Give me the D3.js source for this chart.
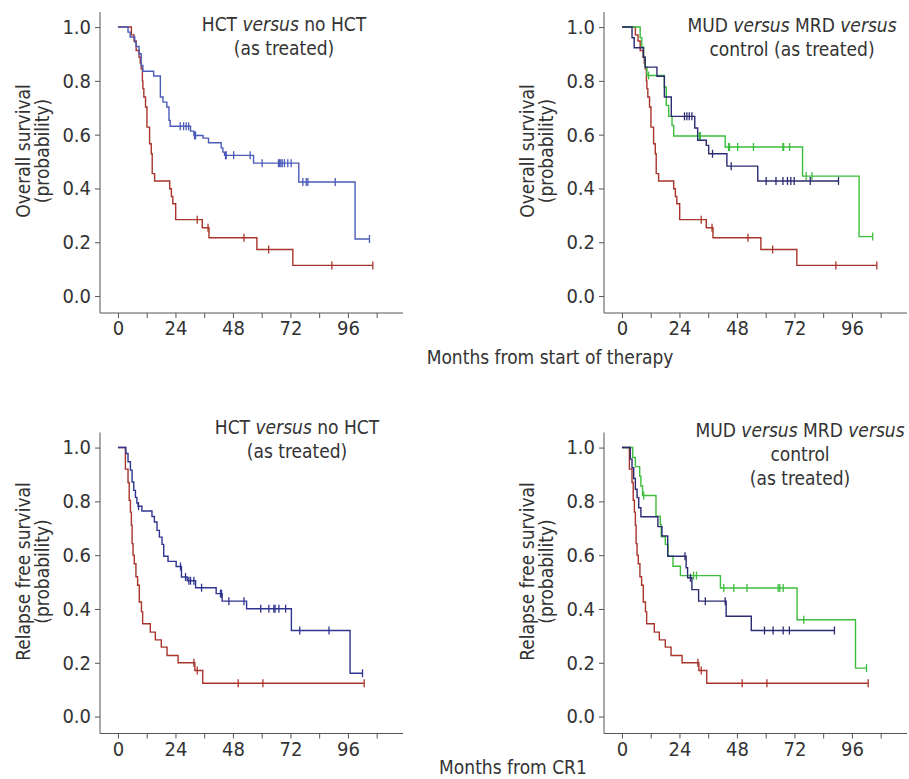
<!DOCTYPE html>
<html>
<head>
<meta charset="utf-8">
<script src="https://cdn.jsdelivr.net/npm/d3@7"></script>
<style>
  body { margin: 0; background: #fff; }
  text { font-family: "Liberation Sans Narrow", "DejaVu Sans Condensed", Roboto, sans-serif; fill: #333; }
</style>
</head>
<body>
<div id="km"></div>
<script>
// ---- data (months, survival probability, censor times) ----

// Overall survival, control (no HCT) - same curve in both top panels
var osMonths_noHCT = [0, 5.6, 6.7, 7.6, 8.8, 9.3, 9.7, 10.2, 10.4, 10.8, 11.5, 12.1, 13.2, 13.9, 14.3, 15.3, 21.6, 22.3, 22.9, 24.1, 35.2, 38.0, 58.0, 73.0];
var osSurv_noHCT   = [1, 0.971, 0.948, 0.913, 0.888, 0.866, 0.845, 0.80, 0.771, 0.74, 0.703, 0.628, 0.566, 0.529, 0.455, 0.428, 0.399, 0.37, 0.343, 0.284, 0.254, 0.217, 0.173, 0.114];
var osCens_noHCT   = [33.1, 37.6, 52.6, 62.9, 89.3, 106.4];

// Overall survival, HCT
var osMonths_HCT = [0, 4.2, 5.1, 7.0, 7.6, 8.8, 9.7, 10.4, 14.9, 17.7, 18.8, 20.4, 21.3, 21.8, 30.3, 31.7, 35.5, 37.8, 43.1, 43.8, 44.5, 56.6, 75.5, 99.0];
var osSurv_HCT   = [1, 0.981, 0.963, 0.944, 0.928, 0.901, 0.857, 0.836, 0.818, 0.74, 0.721, 0.703, 0.653, 0.631, 0.613, 0.597, 0.587, 0.57, 0.551, 0.535, 0.523, 0.494, 0.424, 0.212];
var osCens_HCT   = [26.0, 27.4, 28.5, 29.5, 32.0, 32.4, 44.9, 45.2, 48.3, 55.2, 60.2, 67.0, 67.5, 68.0, 68.6, 69.5, 70.9, 72.3, 77.2, 78.6, 79.3, 90.7, 105.0];

// Overall survival, MUD (navy) and MRD (green)
var osMonths_MUD = [0, 4.2, 5.1, 9.0, 9.7, 14.6, 17.7, 20.6, 30.4, 31.6, 35.2, 36.2, 43.8, 56.7];
var osSurv_MUD   = [1, 0.96, 0.923, 0.888, 0.851, 0.817, 0.74, 0.668, 0.625, 0.579, 0.56, 0.529, 0.483, 0.428];
var osCens_MUD   = [26.1, 27.1, 28.1, 29.2, 37.8, 45.6, 60.2, 64.3, 67.2, 69.1, 70.5, 71.9, 78.6, 90.4];

var osMonths_MRD = [0, 7.6, 8.3, 9.0, 9.7, 10.4, 17.7, 18.5, 19.5, 20.9, 21.6, 43.1, 75.4, 99.0];
var osSurv_MRD   = [1, 0.96, 0.926, 0.888, 0.851, 0.82, 0.777, 0.709, 0.668, 0.634, 0.595, 0.554, 0.446, 0.221];
var osCens_MRD   = [11.1, 32.3, 32.7, 44.5, 44.9, 48.3, 54.9, 67.2, 67.5, 70.0, 76.9, 79.3, 104.7];

// Relapse free survival, control (no HCT)
var rfsMonths_noHCT = [0, 3.1, 4.2, 4.7, 5.2, 5.6, 5.9, 6.3, 6.8, 7.5, 8.2, 8.9, 9.8, 10.3, 13.5, 15.6, 18.1, 20.5, 25.1, 32.1, 35.4];
var rfsSurv_noHCT   = [1, 0.92, 0.87, 0.804, 0.76, 0.711, 0.643, 0.60, 0.568, 0.52, 0.488, 0.426, 0.39, 0.345, 0.314, 0.285, 0.258, 0.227, 0.2, 0.171, 0.124];
var rfsCens_noHCT   = [31.7, 33.1, 50.2, 60.5, 102.8];

// Relapse free survival, HCT
var rfsMonths_HCT = [0, 3.3, 4.2, 5.2, 5.9, 6.6, 7.3, 7.9, 8.4, 10.0, 14.2, 15.2, 16.3, 17.3, 18.4, 19.1, 20.9, 24.3, 26.5, 28.9, 32.4, 41.0, 43.5, 53.7, 72.4, 96.9];
var rfsSurv_HCT   = [1, 0.978, 0.947, 0.916, 0.872, 0.841, 0.815, 0.794, 0.782, 0.764, 0.744, 0.723, 0.692, 0.667, 0.64, 0.596, 0.577, 0.558, 0.519, 0.505, 0.479, 0.457, 0.429, 0.401, 0.32, 0.161];
var rfsCens_HCT   = [8.6, 26.1, 28.2, 29.6, 30.3, 31.7, 34.9, 42.8, 43.2, 46.3, 52.6, 59.6, 63.0, 65.1, 65.6, 67.2, 70.0, 75.9, 88.1, 102.1];

// Relapse free survival, MUD (navy) and MRD (green)
var rfsMonths_MUD = [0, 3.5, 4.2, 4.9, 5.6, 6.3, 7.0, 7.9, 15.0, 16.7, 19.1, 26.8, 27.4, 29.2, 32.0, 43.5, 54.0];
var rfsSurv_MUD   = [1, 0.957, 0.925, 0.885, 0.845, 0.814, 0.776, 0.743, 0.706, 0.671, 0.596, 0.553, 0.516, 0.472, 0.429, 0.373, 0.32];
var rfsCens_MUD   = [26.3, 28.6, 34.8, 43.1, 59.5, 63.1, 67.3, 69.9, 88.7];

var rfsMonths_MRD = [0, 4.5, 5.6, 7.4, 7.9, 8.6, 14.2, 16.0, 16.4, 18.1, 19.2, 21.3, 24.4, 41.1, 73.1, 97.5];
var rfsSurv_MRD   = [1, 0.963, 0.929, 0.894, 0.857, 0.822, 0.745, 0.714, 0.668, 0.64, 0.596, 0.559, 0.524, 0.478, 0.36, 0.18];
var rfsCens_MRD   = [9.1, 29.9, 31.1, 42.5, 46.7, 52.2, 65.2, 65.9, 67.3, 75.9, 102.1];

// axis ticks
var xTicks = [0, 12, 24, 36, 48, 60, 72, 84, 96, 108];
var xLabelEvery = 24;
var yTicks = [0, 0.2, 0.4, 0.6, 0.8, 1.0];

kmpanels();

function kmpanels() {
  var svg = d3.select("#km")
              .append("svg")
              .attr("width", 909)
              .attr("height", 779);

  var red = "#a8342b", blue = "#4a5bb8", darkblue = "#2e3590", navy = "#2b2b72", green = "#3dbd3d";

  function curve(months, surv, cens, color) {
    return {months: months, surv: surv, cens: cens, color: color};
  }

  var panels = [
    {left: 100, top: 12, ylabel: "Overall survival",
     title: [[["HCT ", 0], ["versus", 1], [" no HCT", 0]], [["(as treated)", 0]]], tx: 284, ty: 31,
     curves: [curve(osMonths_noHCT, osSurv_noHCT, osCens_noHCT, red),
              curve(osMonths_HCT, osSurv_HCT, osCens_HCT, blue)]},
    {left: 604, top: 12, ylabel: "Overall survival",
     title: [[["MUD ", 0], ["versus", 1], [" MRD ", 0], ["versus", 1]], [["control (as treated)", 0]]], tx: 792, ty: 32,
     curves: [curve(osMonths_noHCT, osSurv_noHCT, osCens_noHCT, red),
              curve(osMonths_MRD, osSurv_MRD, osCens_MRD, green),
              curve(osMonths_MUD, osSurv_MUD, osCens_MUD, navy)]},
    {left: 100, top: 432.5, ylabel: "Relapse free survival",
     title: [[["HCT ", 0], ["versus", 1], [" no HCT", 0]], [["(as treated)", 0]]], tx: 297, ty: 434,
     curves: [curve(rfsMonths_noHCT, rfsSurv_noHCT, rfsCens_noHCT, red),
              curve(rfsMonths_HCT, rfsSurv_HCT, rfsCens_HCT, darkblue)]},
    {left: 604, top: 432.5, ylabel: "Relapse free survival",
     title: [[["MUD ", 0], ["versus", 1], [" MRD ", 0], ["versus", 1]], [["control", 0]], [["(as treated)", 0]]], tx: 800, ty: 437,
     curves: [curve(rfsMonths_noHCT, rfsSurv_noHCT, rfsCens_noHCT, red),
              curve(rfsMonths_MRD, rfsSurv_MRD, rfsCens_MRD, green),
              curve(rfsMonths_MUD, rfsSurv_MUD, rfsCens_MUD, navy)]}
  ];

  panels.forEach(function(p) { drawPanel(svg, p); });

  // shared x axis titles
  svg.append("text").attr("x", 550).attr("y", 364)
     .attr("font-size", "19px").attr("text-anchor", "middle")
     .text("Months from start of therapy");
  svg.append("text").attr("x", 513).attr("y", 774)
     .attr("font-size", "19px").attr("text-anchor", "middle")
     .text("Months from CR1");
}

function drawPanel(svg, p) {
  var width = 303, height = 301;
  var g = svg.append("g").attr("transform", "translate(" + p.left + "," + p.top + ")");

  var x = d3.scaleLinear().domain([-7.5, 119]).range([0, width]);
  var y = d3.scaleLinear().domain([-0.063, 1.056]).range([height, 0]);

  // axes
  var yAxis = g.append("g")
      .call(d3.axisLeft(y).tickValues(yTicks).tickSize(5).tickPadding(4).tickFormat(d3.format(".1f")));
  var xAxis = g.append("g")
      .attr("transform", "translate(0," + height + ")")
      .call(d3.axisBottom(x).tickValues(xTicks).tickSize(5).tickPadding(3)
            .tickFormat(function(d) { return d % xLabelEvery === 0 ? d : ""; }));
  [xAxis, yAxis].forEach(function(a) {
    a.select(".domain").attr("stroke", "#555").attr("d", null);
    a.selectAll(".tick line").attr("stroke", "#555");
    a.selectAll("text").attr("font-size", "20px").attr("font-family", null).attr("fill", "#333");
  });
  yAxis.select(".domain").attr("d", "M0," + height + "V0");
  xAxis.select(".domain").attr("d", "M0,0H" + width);

  // step curves
  var line = d3.line()
      .x(function(d) { return x(d[0]); })
      .y(function(d) { return y(d[1]); })
      .curve(d3.curveStepAfter);

  p.curves.forEach(function(c) {
    var pts = c.months.map(function(m, i) { return [m, c.surv[i]]; });
    var end = d3.max(c.cens);
    pts.push([end, c.surv[c.surv.length - 1]]);

    g.append("path")
      .attr("d", line(pts))
      .attr("fill", "none")
      .attr("stroke", c.color)
      .attr("stroke-width", 1.4);

    var survAt = function(t) {
      var i = d3.bisectRight(c.months, t) - 1;
      return c.surv[Math.max(0, i)];
    };

    g.selectAll(null)
      .data(c.cens)
      .enter()
      .append("line")
      .attr("x1", function(d) { return x(d); })
      .attr("x2", function(d) { return x(d); })
      .attr("y1", function(d) { return y(survAt(d)) - 4; })
      .attr("y2", function(d) { return y(survAt(d)) + 4; })
      .attr("stroke", c.color)
      .attr("stroke-width", 1.3);
  });

  // title, with italic "versus"
  var t = svg.append("text").attr("text-anchor", "middle").attr("font-size", "19px");
  p.title.forEach(function(lineParts, li) {
    lineParts.forEach(function(part, pi) {
      var s = t.append("tspan").text(part[0]);
      if (pi === 0) s.attr("x", p.tx).attr("y", p.ty + li * 24);
      if (part[1]) s.attr("font-style", "italic");
    });
  });

  // y axis title, two lines
  var yl = svg.append("text")
      .attr("text-anchor", "middle")
      .attr("font-size", "19px")
      .attr("transform", "translate(" + (p.left - 70) + "," + (p.top + 139) + ") rotate(-90)");
  yl.append("tspan").attr("x", 0).attr("y", 0).text(p.ylabel);
  yl.append("tspan").attr("x", 0).attr("y", 19).text("(probability)");
}
</script>
</body>
</html>
